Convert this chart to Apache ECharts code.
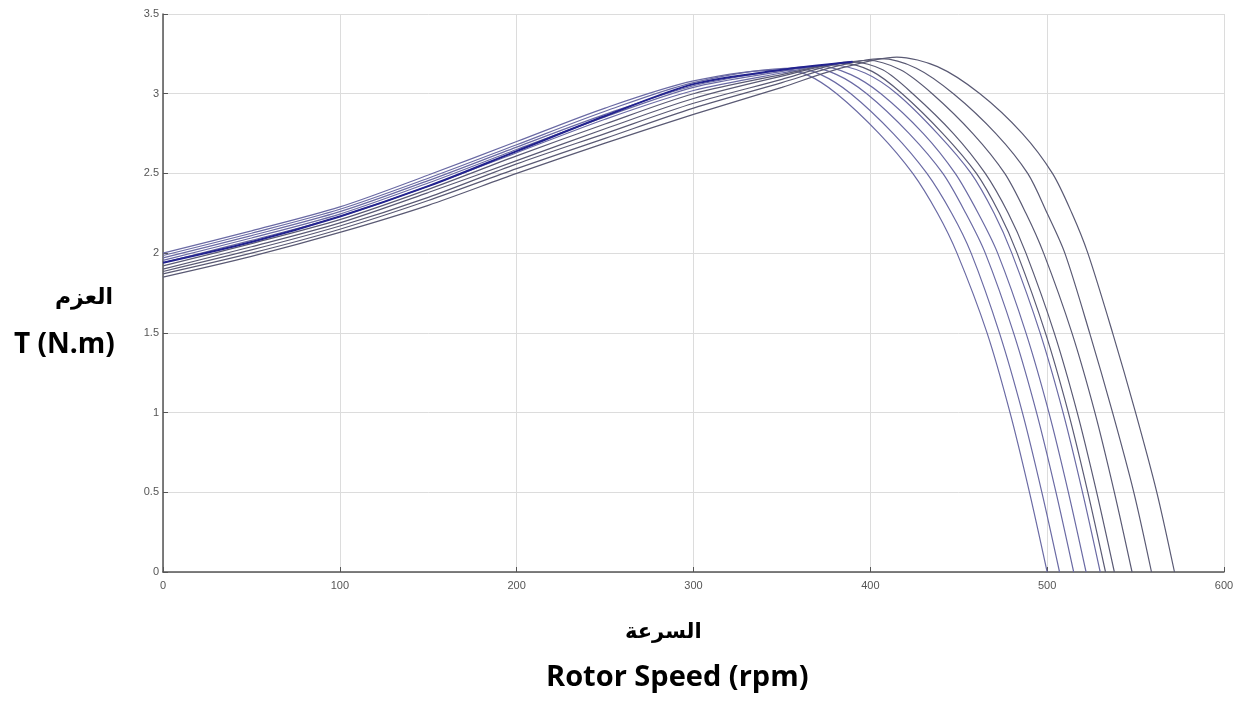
<!DOCTYPE html>
<html>
<head>
<meta charset="utf-8">
<script src="https://cdn.jsdelivr.net/npm/echarts@6/dist/echarts.min.js"></script>
<style>
  html, body { margin: 0; padding: 0; background: #fff; }
  #chart { width: 1239px; height: 702px; }
</style>
</head>
<body>
<div id="chart"></div>
<script>
'use strict';
/* torque - speed curves */

var xTicks = [0, 100, 200, 300, 400, 500, 600];
var yTicks = [0, 0.5, 1, 1.5, 2, 2.5, 3, 3.5];

// one array per curve: [speed rpm, torque N.m]
var curve1 = [[0, 2.00], [50, 2.14], [100, 2.29], [150, 2.49], [200, 2.70], [250, 2.91], [300, 3.08], [350, 3.15], [364, 3.12], [381, 3.0], [405, 2.75], [424, 2.5], [438, 2.25], [449, 2.0], [466, 1.5], [479, 1.0], [490, 0.5], [500, 0]];
var curve2 = [[0, 1.985], [50, 2.125], [100, 2.275], [150, 2.47], [200, 2.68], [250, 2.89], [300, 3.07], [357, 3.16], [372, 3.12], [389, 3.0], [413, 2.75], [432, 2.5], [446, 2.25], [457, 2.0], [473, 1.5], [486, 1.0], [497, 0.5], [507, 0]];
var curve3 = [[0, 1.97], [50, 2.11], [100, 2.26], [150, 2.455], [200, 2.665], [250, 2.87], [300, 3.05], [350, 3.15], [364, 3.17], [381, 3.12], [398, 3.0], [422, 2.75], [441, 2.5], [454, 2.25], [465, 2.0], [481, 1.5], [494, 1.0], [505, 0.5], [515, 0]];
var curve4 = [[0, 1.955], [50, 2.095], [100, 2.245], [150, 2.44], [200, 2.65], [250, 2.855], [300, 3.04], [350, 3.14], [371, 3.175], [389, 3.12], [406, 3.0], [430, 2.75], [448, 2.5], [461, 2.25], [472, 2.0], [488, 1.5], [501, 1.0], [512, 0.5], [522, 0]];
var curve5 = [[0, 1.94], [50, 2.08], [100, 2.23], [150, 2.42], [200, 2.63], [250, 2.84], [300, 3.02], [350, 3.13], [378, 3.18], [397, 3.13], [415, 3.0], [438, 2.75], [457, 2.5], [470, 2.25], [480, 2.0], [496, 1.5], [509, 1.0], [520, 0.5], [530, 0]];
var curve6 = [[0, 1.92], [50, 2.06], [100, 2.21], [150, 2.40], [200, 2.61], [250, 2.81], [300, 3.00], [350, 3.12], [384, 3.19], [401, 3.14], [418, 3.0], [441, 2.75], [460, 2.5], [473, 2.25], [483, 2.0], [499, 1.5], [512, 1.0], [523, 0.5], [533, 0]];
var curve7 = [[0, 1.90], [50, 2.04], [100, 2.19], [150, 2.38], [200, 2.58], [250, 2.78], [300, 2.97], [350, 3.11], [390, 3.20], [407, 3.15], [424, 3.0], [447, 2.75], [465, 2.5], [478, 2.25], [488, 2.0], [504, 1.5], [517, 1.0], [528, 0.5], [538, 0]];
var curve8 = [[0, 1.885], [50, 2.02], [100, 2.17], [150, 2.35], [200, 2.56], [250, 2.75], [300, 2.94], [350, 3.09], [375, 3.17], [398, 3.21], [417, 3.15], [435, 3.0], [458, 2.75], [476, 2.5], [488, 2.25], [498, 2.0], [514, 1.5], [527, 1.0], [538, 0.5], [548, 0]];
var curve9 = [[0, 1.87], [50, 2.00], [100, 2.15], [150, 2.33], [200, 2.53], [250, 2.72], [300, 2.91], [350, 3.07], [380, 3.17], [406, 3.22], [426, 3.16], [447, 3.0], [471, 2.75], [489, 2.5], [500, 2.25], [510, 2.0], [524, 1.5], [537, 1.0], [549, 0.5], [559, 0]];
var curve10 = [[0, 1.85], [50, 1.98], [100, 2.13], [150, 2.30], [200, 2.50], [250, 2.69], [300, 2.87], [350, 3.04], [380, 3.15], [415, 3.23], [438, 3.17], [462, 3.0], [486, 2.75], [503, 2.5], [514, 2.25], [523, 2.0], [537, 1.5], [550, 1.0], [562, 0.5], [572, 0]];
// darker blue trace inside the band
var blueTrace = [[0, 1.94], [50, 2.07], [100, 2.23], [150, 2.42], [200, 2.64], [250, 2.86], [300, 3.06], [350, 3.15], [390, 3.20]];

var curves = [curve1, curve2, curve3, curve4, curve5, curve6, curve7, curve8, curve9, curve10];

var series = [];
for (var i = 0; i < curves.length; i++) {
  series.push({
    type: 'line',
    data: curves[i],
    smooth: 0.3,
    showSymbol: false,
    silent: true,
    lineStyle: { color: i < 5 ? '#6a6aa4' : '#5a5a74', width: 1.2 }
  });
}
series.push({
  type: 'line',
  data: blueTrace,
  smooth: 0.3,
  showSymbol: false,
  silent: true,
  lineStyle: { color: '#22228f', width: 2 }
});

var chart = echarts.init(document.getElementById('chart'));
var option = {
  backgroundColor: '#ffffff',
  animation: false,
  grid: { left: 163, right: 15, top: 14, bottom: 130 },
  xAxis: {
    type: 'value',
    min: xTicks[0],
    max: xTicks[xTicks.length - 1],
    interval: 100,
    axisLine: { show: true, onZero: false, lineStyle: { color: '#555', width: 1.5 } },
    axisTick: { show: true, inside: true, length: 5, lineStyle: { color: '#555' } },
    axisLabel: { color: '#555', fontSize: 11, fontFamily: 'Liberation Sans Narrow, Liberation Sans', margin: 8 },
    splitLine: { show: true, lineStyle: { color: '#dcdcdc', width: 1 } }
  },
  yAxis: {
    type: 'value',
    min: yTicks[0],
    max: yTicks[yTicks.length - 1],
    interval: 0.5,
    axisLine: { show: true, onZero: false, lineStyle: { color: '#555', width: 1.5 } },
    axisTick: { show: true, inside: true, length: 5, lineStyle: { color: '#555' } },
    axisLabel: { color: '#555', fontSize: 11, fontFamily: 'Liberation Sans Narrow, Liberation Sans', margin: 4 },
    splitLine: { show: true, lineStyle: { color: '#dcdcdc', width: 1 } }
  },
  graphic: [
    { type: 'text', left: 55, top: 287, style: { text: 'العزم', font: 'bold 22px "DejaVu Sans"', fill: '#000' } },
    { type: 'text', left: 14, top: 331, style: { text: 'T (N.m)', font: 'bold 28px "Open Sans"', fill: '#000' } },
    { type: 'text', left: 625, top: 622, style: { text: 'السرعة', font: 'bold 21px "DejaVu Sans"', fill: '#000' } },
    { type: 'text', left: 546, top: 663, style: { text: 'Rotor Speed (rpm)', font: 'bold 29px "Open Sans"', fill: '#000' } }
  ],
  series: series
};
chart.setOption(option);
</script>
</body>
</html>
